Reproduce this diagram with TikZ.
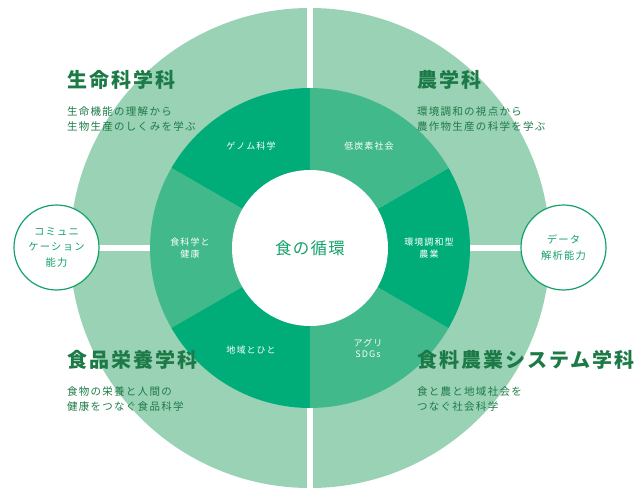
\documentclass[tikz,border=0pt]{standalone}
\usepackage{fontspec}
\setmainfont{Noto Sans CJK JP}
\newfontfamily\jpsp[LetterSpace=12]{Noto Sans CJK JP}
\newfontfamily\jpti[LetterSpace=10]{Noto Sans CJK JP}
\newfontfamily\jpcen[LetterSpace=8]{Noto Sans CJK JP}
\definecolor{lightg}{HTML}{9AD2B6}
\definecolor{midg}{HTML}{41B98B}
\definecolor{darkg}{HTML}{00AD78}
\definecolor{titleg}{HTML}{1C7A47}
\definecolor{ringtxt}{HTML}{14A26A}
\tikzset{
  title/.style={anchor=west,inner sep=0pt,text=titleg,font=\jpti\bfseries\fontsize{20}{24}\selectfont},
  desc/.style={anchor=west,inner sep=0pt,text=titleg,align=left,font=\jpsp\fontsize{10.5}{15}\selectfont},
  seglabel/.style={inner sep=0pt,text=white,align=center,font=\jpsp\fontsize{9}{11.5}\selectfont},
  skill/.style={circle,draw=ringtxt,line width=1.2pt,fill=white,minimum size=85pt,inner sep=0pt,text=ringtxt,align=center,font=\jpsp\fontsize{10.3}{15.3}\selectfont},
  hub/.style={circle,fill=white,minimum size=156pt,inner sep=0pt,text=ringtxt,font=\jpcen\fontsize{16.5}{20}\selectfont},
}
\begin{document}
\begin{tikzpicture}[x=1pt,y=1pt]
\useasboundingbox (-310,-245) rectangle (330,248);
% outer light disk
\fill[lightg] (0,0) circle[radius=240];
\fill[white] (-3.2,-250) rectangle (3.2,250);
\fill[white] (-250,-3) rectangle (250,3);
% inner ring segments
\fill[darkg] (0,0) -- (90:160) arc[start angle=90,end angle=150,radius=160] -- cycle;
\fill[midg] (0,0) -- (150:160) arc[start angle=150,end angle=210,radius=160] -- cycle;
\fill[darkg] (0,0) -- (210:160) arc[start angle=210,end angle=270,radius=160] -- cycle;
\fill[midg] (0,0) -- (270:160) arc[start angle=270,end angle=330,radius=160] -- cycle;
\fill[darkg] (0,0) -- (-30:160) arc[start angle=-30,end angle=30,radius=160] -- cycle;
\fill[midg] (0,0) -- (30:160) arc[start angle=30,end angle=90,radius=160] -- cycle;
\node[hub] (center) at (0,0) {食の循環};
% segment labels
\node[seglabel] (genome) at (120:118) {ゲノム科学};
\node[seglabel] (lowc) at (60:118) {低炭素社会};
\node[seglabel] (foodh) at (180:120) {食科学と\\健康};
\node[seglabel] (envag) at (0:119) {環境調和型\\農業};
\node[seglabel] (region) at (240:118) {地域とひと};
\node[seglabel] (agri) at (300:116) {アグリ\\SDGs};
% skill circles
\node[skill] (comm) at (-253.5,0.5) {コミュニ\\ケーション\\能力};
\node[skill] (data) at (253.5,0.5) {データ\\解析能力};
% department titles
\node[title] (t1) at (-243,168) {生命科学科};
\node[desc] (d1) at (-243,128.5) {生命機能の理解から\\生物生産のしくみを学ぶ};
\node[title] (t2) at (107,168) {農学科};
\node[desc] (d2) at (107,128.5) {環境調和の視点から\\農作物生産の科学を学ぶ};
\node[title] (t3) at (-243,-112) {食品栄養学科};
\node[desc] (d3) at (-243,-151.5) {食物の栄養と人間の\\健康をつなぐ食品科学};
\node[title] (t4) at (107,-112) {食料農業システム学科};
\node[desc] (d4) at (107,-151.5) {食と農と地域社会を\\つなぐ社会科学};
\end{tikzpicture}
\end{document}
